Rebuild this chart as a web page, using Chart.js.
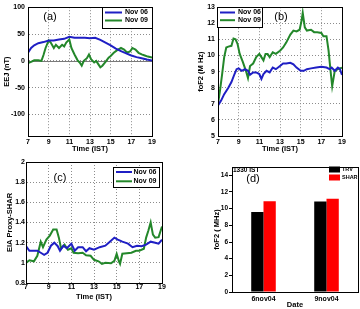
<!DOCTYPE html>
<html>
<head>
<meta charset="utf-8">
<script src="https://cdn.jsdelivr.net/npm/chart.js@4.4.0/dist/chart.umd.min.js"></script>
<style>
  body { margin: 0; background: #fff; }
  canvas { position: absolute; }
</style>
</head>
<body>
<canvas id="cA" width="180" height="155" style="left:0;top:0"></canvas>
<canvas id="cB" width="180" height="155" style="left:180px;top:0"></canvas>
<canvas id="cC" width="180" height="154" style="left:0;top:155px"></canvas>
<canvas id="cD" width="180" height="154" style="left:180px;top:155px"></canvas>
<script>
// (a) EEJ
var eejTime06 = [7,7.3,7.6,8,8.5,9,9.5,10,10.5,11,11.5,12,12.5,13,13.5,14,14.5,15,15.5,16,16.5,17,17.5,18,18.5,19];
var eej06 = [15,24,29,33,35,38,38,40,41,45,43,43,43,42,43,39,34,29,23,18,14,10,7,5,2.5,0.5];
var eejTime09 = [7,7.3,7.6,8,8.3,8.5,8.7,9,9.2,9.5,9.7,10,10.3,10.5,10.7,11,11.2,11.5,11.8,12,12.2,12.4,12.7,12.9,13.1,13.4,13.6,13.8,14,14.2,14.5,14.8,15,15.3,15.6,16,16.3,16.6,16.9,17.1,17.4,17.7,18,18.3,18.6,19];
var eej09 = [-4,-2,1,1,0,11,24,38,34,24,30,24,30,27,34,40,24,12,1,-3,-9,0,5,12,3,-3,0,-6,-12,-9,-2,6,9,15,19.5,24,21,15,18,24,21,15,12,10,8,6];

// (b) foF2
var fofTime06 = [7,7.3,7.6,8,8.3,8.6,8.8,9,9.3,9.6,9.9,10.1,10.4,10.7,11,11.2,11.4,11.7,12,12.3,12.6,13,13.3,13.6,14,14.3,14.6,15,15.3,15.6,16,16.5,17,17.5,17.8,18,18.3,18.6,18.8,19];
var fof06 = [6.9,7.2,7.6,8.0,8.35,8.85,9.15,9.2,9.05,9.15,9.05,8.8,8.95,8.95,8.85,8.55,8.85,9.05,8.95,9.25,9.15,9.35,9.5,9.5,9.55,9.45,9.25,9.05,9.05,9.15,9.2,9.25,9.3,9.25,9.15,9.25,9.05,9.25,9.15,8.8];
var fofTime09 = [7,7.2,7.4,7.6,7.8,8,8.3,8.5,8.7,8.9,9.1,9.4,9.7,9.9,10.1,10.4,10.7,11,11.2,11.4,11.6,11.8,12,12.3,12.6,13,13.3,13.6,14,14.3,14.6,14.9,15.1,15.2,15.4,15.6,16,16.3,16.6,17,17.2,17.5,17.7,17.9,18.05,18.3,18.6,19];
var fof09 = [7.0,7.85,8.85,9.9,10.5,10.55,10.6,11.05,11.0,10.7,10.1,9.6,9.05,8.6,9.35,9.5,9.9,10.1,9.9,9.7,10.1,10.1,9.9,10.2,10.1,10.3,10.5,10.8,11.3,11.55,11.5,11.6,12.2,12.65,11.75,11.55,11.6,11.45,11.45,11.4,11.2,11.2,10.3,9.0,8.1,9.05,9.15,9.25];

// (c) EIA proxy
var eiaTime06 = [7,7.3,7.6,8,8.3,8.6,8.9,9.2,9.5,9.8,10,10.3,10.6,11,11.3,11.6,12,12.3,12.6,13,13.5,14,14.4,14.8,15.1,15.5,16,16.4,16.8,17.2,17.6,18,18.4,18.7,19];
var eia06 = [1.165,1.12,1.12,1.12,1.10,1.08,1.10,1.17,1.20,1.165,1.12,1.17,1.145,1.19,1.12,1.155,1.155,1.115,1.145,1.13,1.155,1.17,1.21,1.25,1.23,1.21,1.19,1.155,1.17,1.165,1.18,1.21,1.20,1.19,1.23];
var eiaTime09 = [7,7.3,7.7,8,8.3,8.5,8.8,9.1,9.4,9.7,9.9,10.1,10.4,10.7,11,11.2,11.6,12,12.3,12.7,13,13.4,13.7,14,14.5,14.8,15,15.2,15.3,15.5,15.9,16.3,16.7,17,17.4,17.6,17.8,18,18.2,18.4,18.7,19];
var eia09 = [1.0,1.025,1.015,1.07,1.21,1.155,1.23,1.27,1.33,1.33,1.25,1.14,1.18,1.13,1.145,1.10,1.095,1.10,1.075,1.07,1.03,1.015,0.99,1.0,0.995,1.02,1.09,1.015,0.99,1.09,1.095,1.10,1.12,1.12,1.14,1.25,1.32,1.40,1.28,1.25,1.255,1.36];

// (d) bars at 1330 IST
var dates = ['6nov04', '9nov04'];
var trv = [9.6, 10.85];
var shar = [10.9, 11.2];

var BLUE = '#1f1fc4', GREEN = '#23872a';
var FONT = '"Liberation Sans", Arial, sans-serif';
Chart.defaults.font.family = FONT;
Chart.defaults.color = '#000';

function zip(t, v) {
  return t.map(function (x, i) { return {x: x, y: v[i]}; });
}

// frame, zero line, panel labels and the little legends
var panelPlugin = {
  id: 'panel',
  beforeDatasetsDraw: function (chart, args, o) {
    if (!o.zero) return;
    var ctx = chart.ctx, a = chart.chartArea;
    var y = Math.round(chart.scales.y.getPixelForValue(0)) + 0.5;
    ctx.save();
    ctx.strokeStyle = '#7a7a7a';
    ctx.lineWidth = 1;
    ctx.beginPath(); ctx.moveTo(a.left, y); ctx.lineTo(a.right, y); ctx.stroke();
    ctx.restore();
  },
  afterDatasetsDraw: function (chart, args, o) {
    var ctx = chart.ctx, a = chart.chartArea;
    ctx.save();
    ctx.strokeStyle = '#000';
    ctx.lineWidth = 1;
    ctx.strokeRect(Math.round(a.left) + 0.5, Math.round(a.top) + 0.5,
                   Math.round(a.right - a.left), Math.round(a.bottom - a.top));
    ctx.fillStyle = '#000';
    ctx.textBaseline = 'middle';
    (o.texts || []).forEach(function (t) {
      ctx.font = t.font;
      ctx.textAlign = t.align || 'center';
      ctx.fillText(t.text, t.x, t.y);
    });
    var L = o.legend;
    if (L) {
      if (L.box) {
        ctx.fillStyle = '#fff';
        ctx.fillRect(L.x, L.y, L.w, L.h);
        ctx.strokeStyle = '#000';
        ctx.strokeRect(L.x + 0.5, L.y + 0.5, L.w, L.h);
      }
      ctx.font = 'bold ' + (L.size || 7) + 'px ' + FONT;
      ctx.textAlign = 'left';
      chart.data.datasets.forEach(function (ds, i) {
        var ry = L.y + L.row0 + i * L.rowH;
        if (L.type === 'rect') {
          ctx.fillStyle = ds.backgroundColor;
          ctx.fillRect(L.x, ry - 3, L.sw, 6);
        } else {
          ctx.strokeStyle = ds.borderColor;
          ctx.lineWidth = 2;
          ctx.beginPath(); ctx.moveTo(L.x + 3, ry); ctx.lineTo(L.x + 3 + L.sw, ry); ctx.stroke();
        }
        ctx.fillStyle = '#000';
        ctx.fillText(ds.label, L.x + L.tx, ry);
      });
    }
    ctx.restore();
  }
};

function lineChart(id, h, area, yOpt, yTitle, d06, d09, panel) {
  return new Chart(id, {
    type: 'line',
    data: {
      datasets: [
        {label: 'Nov 06', data: d06, borderColor: BLUE, borderWidth: 2, pointRadius: 0, tension: 0},
        {label: 'Nov 09', data: d09, borderColor: GREEN, borderWidth: 2, pointRadius: 0, tension: 0}
      ]
    },
    options: {
      responsive: false,
      animation: false,
      layout: {padding: {top: area.top, right: 180 - area.right, left: 0, bottom: 0}},
      plugins: {legend: {display: false}, tooltip: {enabled: false}, panel: panel},
      scales: {
        x: {
          type: 'linear', min: 7, max: 19,
          ticks: {stepSize: 2, padding: area.xPad, maxRotation: 0, font: {size: 7, weight: 'bold'}},
          grid: {color: '#8c8c8c', drawTicks: false},
          border: {color: '#000', dash: [1, 2]},
          title: {display: true, text: 'Time (IST)', font: {size: 7.5, weight: 'bold'}, padding: {top: 0, bottom: area.tPad}},
          afterFit: function (s) { s.height = h - area.bottom; }
        },
        y: {
          min: yOpt.min, max: yOpt.max,
          ticks: {stepSize: yOpt.step, includeBounds: false, padding: area.yPad, font: {size: 7, weight: 'bold'},
                  callback: function (v) { return String(+v.toFixed(1)); }},
          grid: {color: '#8c8c8c', drawTicks: false},
          border: {color: '#000', dash: [1, 2]},
          title: {display: true, text: yTitle, font: {size: 7.5, weight: 'bold'}, padding: {top: area.yt, bottom: 0}},
          afterFit: function (s) { s.width = area.left; }
        }
      }
    },
    plugins: [panelPlugin]
  });
}

lineChart('cA', 155, {left: 28, top: 6, right: 152, bottom: 136, xPad: 1.5, tPad: 2, yPad: 3, yt: 2},
  {min: -140, max: 100, step: 50}, 'EEJ (nT)', zip(eejTime06, eej06), zip(eejTime09, eej09),
  {zero: true,
   texts: [{text: '(a)', x: 50, y: 17, font: '11px ' + FONT}],
   legend: {box: true, x: 102, y: 7, w: 50, h: 21, row0: 5.5, rowH: 8, sw: 17, tx: 23}});

lineChart('cB', 155, {left: 38, top: 6, right: 162, bottom: 136, xPad: 1.5, tPad: 2, yPad: 3, yt: 16.5},
  {min: 5, max: 13, step: 1}, 'foF2 (M Hz)', zip(fofTime06, fof06), zip(fofTime09, fof09),
  {texts: [{text: '(b)', x: 101, y: 17, font: '11px ' + FONT}],
   legend: {box: true, x: 37, y: 7, w: 45, h: 20, row0: 5.5, rowH: 7.7, sw: 15, tx: 21}});

lineChart('cC', 154, {left: 26, top: 7, right: 162, bottom: 128, xPad: 0, tPad: 7.5, yPad: 1, yt: 5.5},
  {min: 0.8, max: 2, step: 0.2}, 'EIA Proxy-SHAR', zip(eiaTime06, eia06), zip(eiaTime09, eia09),
  {texts: [{text: '(c)', x: 60, y: 23, font: '11px ' + FONT}],
   legend: {box: true, x: 113, y: 12, w: 46, h: 20, row0: 5, rowH: 9.3, sw: 16, tx: 20.5}});

new Chart('cD', {
  type: 'bar',
  data: {
    labels: dates,
    datasets: [
      {label: 'TRV', data: trv, backgroundColor: '#000000', categoryPercentage: 0.39, barPercentage: 1},
      {label: 'SHAR', data: shar, backgroundColor: '#ff0000', categoryPercentage: 0.39, barPercentage: 1}
    ]
  },
  options: {
    responsive: false,
    animation: false,
    layout: {padding: {top: 12, right: 2, left: 0, bottom: 0}},
    plugins: {
      legend: {display: false}, tooltip: {enabled: false},
      panel: {
        texts: [
          {text: '1330 IST', x: 53, y: 15, align: 'left', font: 'bold 6.5px ' + FONT},
          {text: '(d)', x: 73, y: 23.5, font: '11px ' + FONT}
        ],
        legend: {type: 'rect', size: 5.5, x: 149, y: 11.7, row0: 2.8, rowH: 8, sw: 11, tx: 13}
      }
    },
    scales: {
      x: {
        ticks: {padding: 3, font: {size: 7, weight: 'bold'}},
        grid: {display: false, drawTicks: false},
        border: {color: '#000'},
        title: {display: true, text: 'Date', font: {size: 7.5, weight: 'bold'}, padding: {top: 0, bottom: 0}},
        afterFit: function (s) { s.height = 154 - 137; }
      },
      y: {
        min: 0, max: 15,
        ticks: {stepSize: 2, includeBounds: false, padding: 1, font: {size: 6.5, weight: 'bold'}},
        grid: {drawOnChartArea: false, drawTicks: true, tickLength: 3, color: '#000'},
        border: {color: '#000'},
        title: {display: true, text: 'foF2 ( MHz)', font: {size: 7.5, weight: 'bold'}, padding: {top: 32.5, bottom: 0}},
        afterFit: function (s) { s.width = 52; }
      }
    }
  },
  plugins: [panelPlugin]
});
</script>
</body>
</html>
